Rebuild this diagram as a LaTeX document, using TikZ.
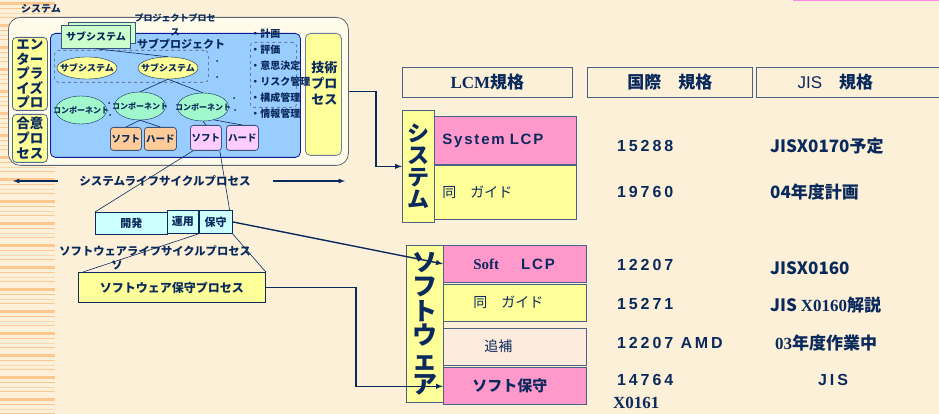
\documentclass[tikz,border=0pt]{standalone}
\usepackage{fontspec}
\setmainfont{Noto Sans CJK JP}
\newfontfamily\tmsfont{Liberation Serif}
\newfontfamily\lsfont{Liberation Sans}
\newfontfamily\spacedfont{Liberation Sans}[LetterSpace=12]
\newfontfamily\numfont{Liberation Sans}[LetterSpace=18]
\usepackage{tikz}
\usetikzlibrary{positioning,shapes,arrows}

\definecolor{paper}{HTML}{FCF0D9}
\definecolor{cream}{HTML}{FFFBEA}
\definecolor{stripe}{HTML}{FFC890}
\definecolor{pinkline}{HTML}{FF88EE}
\definecolor{navy}{HTML}{0B2A5C}
\definecolor{frame}{HTML}{4A6285}
\definecolor{yel}{HTML}{FFFF99}
\definecolor{lblue}{HTML}{99CCFF}
\definecolor{lgreen}{HTML}{CCFFCC}
\definecolor{mint}{HTML}{A0F8CC}
\definecolor{org}{HTML}{FFCC99}
\definecolor{lpink}{HTML}{FFCCFF}
\definecolor{pnk}{HTML}{FF99CC}
\definecolor{cyanb}{HTML}{CCFFFF}
\definecolor{peach}{HTML}{FDEBDD}

\newcommand\fsz[2]{\fontsize{#1}{#2}\selectfont}

\begin{document}
\begin{tikzpicture}[x=1pt, y=-1pt, text=navy, font=\bfseries,
	cell/.style={rectangle, anchor=north west, inner sep=0pt, line width=0.8pt},
	tree/.style={draw=navy, line width=0.6pt},
	conn/.style={draw=navy, line width=1.4pt},
	part/.style={cell, draw=navy!80, rounded corners=3pt, minimum width=31, minimum height=23, font=\bfseries\fsz{9.5}{10}},
	subell/.style={ellipse, draw=navy, fill=yel, inner sep=0pt, minimum width=60, minimum height=22, font=\bfseries\fsz{9}{9}},
	compell/.style={ellipse, draw=navy, fill=mint, inner sep=0pt, minimum width=51, minimum height=28, font=\bfseries\fsz{8}{8}},
	hdr/.style={cell, draw=frame, minimum height=30, font=\bfseries\fsz{17}{17}},
	swbox/.style={cell, draw=frame, minimum width=143, minimum height=37, inner xsep=30pt, text width=83pt, align=left, font=\bfseries\fsz{15}{15}},
	num/.style={anchor=west, inner sep=0pt, font=\numfont\bfseries\fsz{16}{16}},
	jis/.style={anchor=west, inner sep=0pt, font=\bfseries\fsz{17}{17}}]
	\useasboundingbox (0,0) rectangle (939,414);
	\fill[paper] (0,0) rectangle (939,414);
	\foreach \y in {0,22,...,396}{
		\fill[stripe] (0,\y+2) rectangle (55,\y+5);
		\fill[stripe] (0,\y+8) rectangle (55,\y+9);
		\fill[stripe!60!paper] (0,\y+13) rectangle (55,\y+14);
		\fill[stripe] (0,\y+17) rectangle (55,\y+18);
	}
	\draw[pinkline, line width=1.5pt] (793,0.75) -- (939,0.75);

	\node (systitle) [font=\bfseries\fsz{10}{10}] at (41,9) {システム};
	\node (sysbox) [cell, draw=gray!70!navy, fill=cream, rounded corners=12pt, minimum width=340, minimum height=148] at (8,17) {};
	\node (ent) [cell, draw=navy!70, fill=yel, rounded corners=4pt, minimum width=35, minimum height=73, align=left, font=\bfseries\fsz{13.5}{14.5}] at (12,37) {エン\\ター\\プラ\\イズ\\プロ};
	\node (agree) [cell, draw=navy!70, fill=yel, rounded corners=4pt, minimum width=35, minimum height=48, align=left, font=\bfseries\fsz{13.5}{15}] at (12,114) {合意\\プロ\\セス};
	\node (subproj) [cell, draw=blue!40!navy, fill=lblue, rounded corners=5pt, minimum width=250, minimum height=124] at (50,33) {};
	\node (tech) [cell, draw=navy!60, fill=yel, rounded corners=5pt, minimum width=36, minimum height=122] at (305,33) {};
	\node (mgmtbox) [cell, draw=navy!60, dashed, rounded corners=3pt, minimum width=46, minimum height=65] at (250,42) {};
	\node (mgmt) [cell, align=left, font=\bfseries\fsz{10}{16}] at (250,29) {・計画\\・評価\\・意思決定\\・リスク管理\\・構成管理\\・情報管理};
	\node (techtxt) [cell, align=left, font=\bfseries\fsz{13}{16}] at (311,61) {技術\\プロ\\セス};

	\node (subsysback) [cell, draw=navy!80, fill=lgreen, minimum width=67, minimum height=21] at (68,22) {};
	\node (subsys) [cell, draw=navy!80, fill=lgreen, minimum width=69, minimum height=23, font=\bfseries\fsz{10}{10}] at (61,25) {サブシステム};
	\node (projproc) [font=\bfseries\fsz{9}{9}, inner sep=0pt] at (175,18) {プロジェクトプロセ};
	\node (projproc2) [font=\bfseries\fsz{9}{9}, inner sep=0pt] at (175,32) {ス};
	\node (subprojtxt) [font=\bfseries\fsz{11}{11}, inner sep=0pt] at (181,44) {サブプロジェクト};
	\node (ssbox) [cell, draw=navy!60, dashed, rounded corners=4pt, minimum width=154, minimum height=32] at (54,50) {};
	\node (ss1) [subell] at (87,68) {\makebox[0pt]{サブシステム}};
	\node (ss2) [subell] at (168,68) {\makebox[0pt]{サブシステム}};
	\node (comp1) [compell] at (81,110) {\makebox[0pt]{コンポーネント}};
	\node (comp2) [compell] at (140,106) {\makebox[0pt]{コンポーネント}};
	\node (comp3) [compell] at (203,107) {\makebox[0pt]{コンポーネント}};
	\node (soft1) [part, fill=org] at (110,127) {ソフト};
	\node (hard1) [part, fill=org, minimum width=32] at (144,127) {ハード};
	\node (soft2) [part, fill=lpink, minimum height=25] at (190,125) {ソフト};
	\node (hard2) [part, fill=lpink, minimum width=32, minimum height=25] at (226,125) {ハード};
	\foreach \p in {(217,61),(217,77),(109,103),(110,115),(234,98),(235,110)}
		\fill[navy] \p circle (1);

	\draw[tree] (subsys.south) -- (ss2.north);
	\draw[tree] (ss2.south) -- (comp2.north);
	\draw[tree] (ss2.south) -- (comp3.north);
	\draw[tree] (comp2.south) -- (soft1.north);
	\draw[tree] (comp2.south) -- (hard1.north);
	\draw[tree] (comp3.south) -- (soft2.north);
	\draw[tree] (comp3.-50) -- (hard2.north);

	\coordinate (la) at (13,181);
	\coordinate (lb) at (58,181);
	\coordinate (ra) at (273,181);
	\coordinate (rb) at (345,181);
	\draw[conn, line width=1.2pt, -latex] (lb) -- (la);
	\draw[conn, line width=1.2pt, -latex] (ra) -- (rb);
	\node (slcp) [font=\bfseries\fsz{11.5}{12}] at (165,181) {システムライフサイクルプロセス};

	\node (dev) [cell, draw=navy, fill=cyanb, minimum width=72, minimum height=22, font=\bfseries\fsz{11}{11}] at (95,212) {開発};
	\node (ops) [cell, draw=navy, fill=cyanb, minimum width=31, minimum height=23, font=\bfseries\fsz{11}{11}] at (167,210) {運用};
	\node (maint) [cell, draw=navy, fill=cyanb, minimum width=33, minimum height=23, font=\bfseries\fsz{11}{11}] at (ops.north east) {保守};
	\node (swlcp) [cell, align=left, font=\bfseries\fsz{11.3}{14}] at (59,245) {ソフトウェアライフサイクルプロセス\\\hspace*{52pt}ソ};
	\node (swmaint) [cell, draw=navy, fill=yel, minimum width=187, minimum height=30, font=\bfseries\fsz{12}{12}] at (78,272) {ソフトウェア保守プロセス};
	\draw[tree] ([xshift=3pt]soft2.south west) -- (dev.north west);
	\draw[tree] ([xshift=-2pt]soft2.south east) -- ([xshift=-3pt]maint.north east);
	\draw[tree] (ops.south east) -- ([xshift=5pt]swmaint.north west);
	\draw[tree] (maint.south east) -- (swmaint.north east);

	\node (lcmhdr) [hdr, minimum width=170] at (402,67) {{\tmsfont LCM}規格};
	\node (intlhdr) [hdr, minimum width=165] at (587,67) {国際\quad 規格};
	\node (jishdr) [hdr, minimum width=190] at (756,67) {{\mdseries\lsfont JIS}\quad 規格\hspace*{32pt}};

	\node (sysvert) [cell, draw=frame, fill=yel, minimum width=32, minimum height=112, align=center, font=\bfseries\fsz{22}{22}] at (402,110) {シ\\ス\\テ\\ム};
	\node (syslcp) [cell, draw=frame, fill=pnk, minimum width=142, minimum height=48, inner xsep=8pt, text width=126pt, align=left, font=\spacedfont\bfseries\fsz{15}{15}] at (434,116) {System LCP};
	\node (sysguide) [cell, draw=frame, fill=yel, minimum width=142, minimum height=54, inner xsep=8pt, text width=126pt, align=left, font=\mdseries\fsz{14}{14}, below=0pt of syslcp.south west, anchor=north west] {同\quad ガイド};
	\node (n15288) [num] at (617,146) {15288};
	\node (n19760) [num] at (617,192) {19760};
	\node (j0170) [jis] at (770,146) {JISX0170予定};
	\node (jplan) [jis] at (770,192) {04年度計画};

	\node (swvert) [cell, draw=frame, fill=yel, minimum width=37, minimum height=157, align=center, font=\bfseries\fsz{25}{24.5}] at (406,245) {ソ\\フ\\ト\\ウ\\ェ\\ア};
	\node (softlcp) [swbox, fill=pnk] at (443,245) {{\tmsfont Soft}\hspace{22pt}{\spacedfont LCP}};
	\node (swguide) [swbox, fill=yel, font=\mdseries\fsz{14}{14}, below=1pt of softlcp.south west, anchor=north west] {同\quad ガイド};
	\node (supp) [swbox, fill=peach, inner xsep=41pt, text width=61pt, font=\mdseries\fsz{14}{14}, below=6pt of swguide.south west, anchor=north west] {追補};
	\node (softmaint) [swbox, fill=pnk, inner xsep=29pt, text width=85pt, below=2pt of supp.south west, anchor=north west] {ソフト保守};
	\node (n12207) [num] at (617,265) {12207};
	\node (n15271) [num] at (617,304) {15271};
	\node (namd) [num] at (617,343) {12207 AMD};
	\node (n14764) [num] at (617,380) {14764};
	\node (x0161) [jis, font=\tmsfont\bfseries\fsz{17}{17}] at (613,403) {X0161};
	\node (j0160) [jis] at (770,268) {JISX0160};
	\node (j0160k) [jis] at (770,305) {JIS {\tmsfont X0160}解説};
	\node (j03) [jis] at (775,343) {{\tmsfont 03}年度作業中};
	\node (jisonly) [jis, font=\numfont\bfseries\fsz{16}{16}] at (818,380) {JIS};

	\draw[conn, -latex] (sysbox.east) -- ++(27,0) |- (sysvert.west);
	\draw[conn, -latex] (maint.east) -- (softlcp.west);
	\draw[conn, -latex] (swmaint.east) -- ++(90,0) |- (softmaint.west);
\end{tikzpicture}
\end{document}
